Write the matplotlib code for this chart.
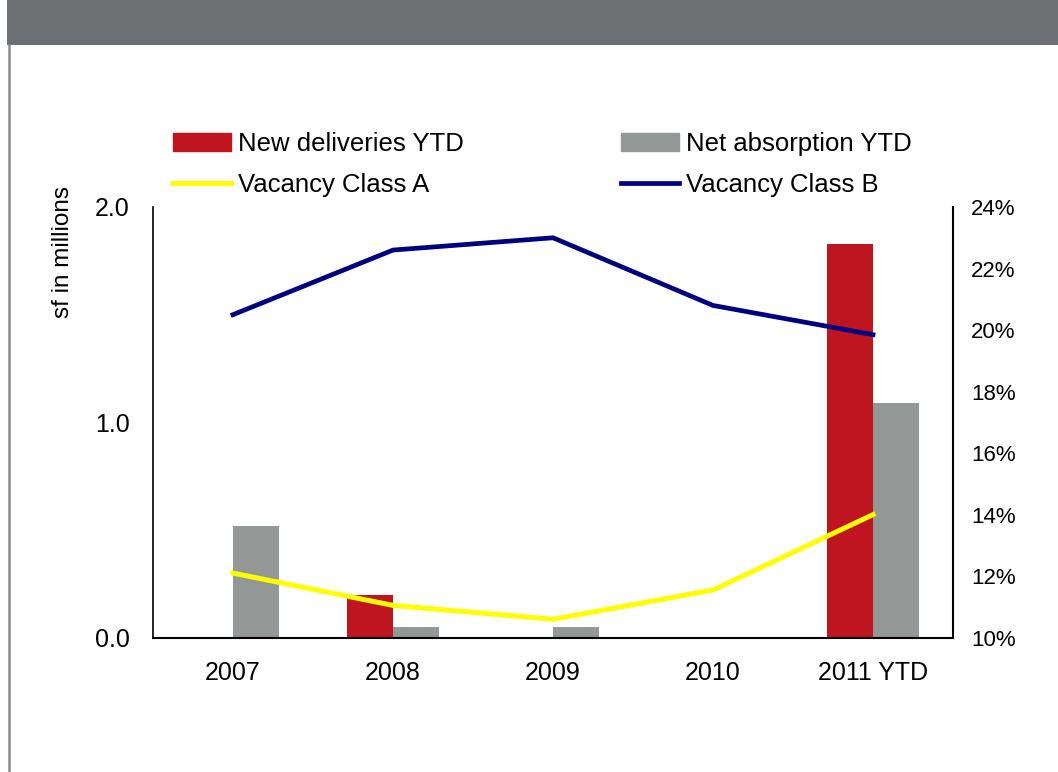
import numpy as np
import matplotlib.pyplot as plt
from matplotlib.patches import Rectangle
from matplotlib.lines import Line2D

years = ['2007', '2008', '2009', '2010', '2011 YTD']
new_deliveries = [0.0, 0.20, 0.0, 0.0, 1.83]
net_absorption = [0.52, 0.05, 0.05, 0.0, 1.09]
vacancy_a = [12.1, 11.05, 10.6, 11.55, 14.0]
vacancy_b = [20.5, 22.6, 23.0, 20.8, 19.85]

RED = '#be1520'
GRAY = '#939796'
YELLOW = '#ffff00'
NAVY = '#00007f'

plt.rcParams['font.family'] = ['Liberation Sans', 'DejaVu Sans']

W, H = 1058, 772
fig = plt.figure(figsize=(W / 100, H / 100), dpi=100)

# header band and left frame line
fig.patches.append(Rectangle((7 / W, 1 - 45 / H), 1, 45 / H, transform=fig.transFigure,
                             facecolor='#6d7073', edgecolor='none', zorder=0))
fig.add_artist(Line2D([8.5 / W, 8.5 / W], [0, 1 - 45 / H], transform=fig.transFigure,
                      color='#8c8c8a', linewidth=1.8))

ax = fig.add_axes([153 / W, 1 - 637.7 / H, 800 / W, (637.7 - 207) / H])
x = np.arange(len(years))
bw = 0.2875
ax.bar(x - bw / 2, new_deliveries, width=bw, color=RED, zorder=2)
ax.bar(x + bw / 2, net_absorption, width=bw, color=GRAY, zorder=2)
ax.set_xlim(-0.5, len(years) - 0.5)
ax.set_ylim(0, 2.0)
ax.set_yticks([0, 1.0, 2.0])
ax.set_yticklabels(['0.0', '1.0', '2.0'], fontsize=18)
ax.set_xticks(x)
ax.set_xticklabels(years, fontsize=18)
ax.tick_params(axis='x', length=0, pad=17)
ax.tick_params(axis='y', length=0, pad=17)
for s in ['top', 'right']:
    ax.spines[s].set_visible(False)
ax.spines['left'].set_linewidth(1.2)
ax.spines['bottom'].set_linewidth(1.5)

ax2 = ax.twinx()
ax2.plot(x, vacancy_a, color=YELLOW, linewidth=3.6, zorder=3)
ax2.plot(x, vacancy_b, color=NAVY, linewidth=3.4, zorder=3)
ax2.set_ylim(10, 24)
ax2.set_yticks(np.arange(10, 25, 2))
ax2.set_yticklabels([f'{v}%' for v in range(10, 25, 2)], fontsize=16)
ax2.tick_params(axis='y', length=0, pad=13)
for s in ['top', 'left', 'bottom']:
    ax2.spines[s].set_visible(False)
ax2.spines['right'].set_linewidth(1.5)

fig.text(63 / W, 1 - 252 / H, 'sf in millions', rotation=90, fontsize=17.5,
         ha='center', va='center')

# column-major order so rows read: deliveries / absorption, class A / class B
handles = [Rectangle((0, 0), 1, 1, color=RED),
           Line2D([0], [0], color=YELLOW, linewidth=3.6),
           Rectangle((0, 0), 1, 1, color=GRAY),
           Line2D([0], [0], color=NAVY, linewidth=3.4)]
labels = ['New deliveries YTD', 'Vacancy Class A', 'Net absorption YTD', 'Vacancy Class B']
fig.legend(handles, labels, ncol=2, loc='upper left', bbox_to_anchor=(173 / W, 1 - 132 / H),
           frameon=False, fontsize=18.5, handlelength=2.26, handleheight=0.74,
           handletextpad=0.27, columnspacing=6.1, labelspacing=0.66, borderpad=0,
           borderaxespad=0)

fig.savefig('out.png', dpi=100)
